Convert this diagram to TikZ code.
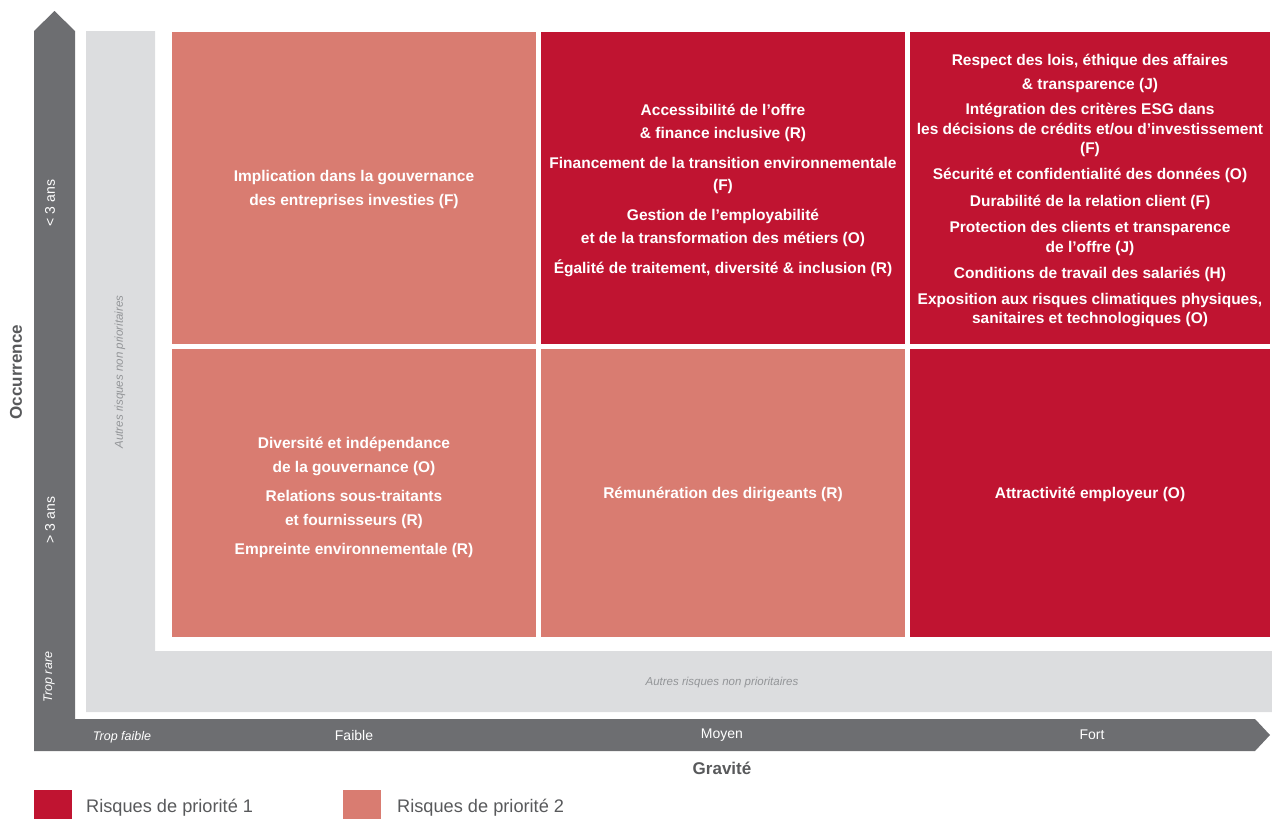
\documentclass[tikz,border=0pt]{standalone}
\usepackage{fontspec}
\setmainfont{Liberation Sans}
\definecolor{prioone}{HTML}{C01431}
\definecolor{priotwo}{HTML}{D97C71}
\definecolor{axisgray}{HTML}{6D6E71}
\definecolor{bandgray}{HTML}{DCDDDF}
\definecolor{labelgray}{HTML}{58595B}
\definecolor{othergray}{HTML}{939598}
\tikzset{
  cellbox/.style={inner sep=0pt, text=white, align=center,
    font=\bfseries\fontsize{15.5}{22.5}\selectfont},
  celltext/.style={inner sep=0pt, text=white, align=center,
    font=\bfseries\fontsize{15.5}{22.5}\selectfont},
  axislabel/.style={inner sep=0pt, text=white, font=\fontsize{14}{16}\selectfont},
  axisital/.style={inner sep=0pt, text=white, font=\itshape\fontsize{12.5}{14}\selectfont},
  othertext/.style={inner sep=0pt, text=othergray, font=\itshape\fontsize{11.5}{13}\selectfont},
  titletext/.style={inner sep=0pt, text=labelgray, font=\bfseries\fontsize{17}{19}\selectfont},
  legendtext/.style={inner sep=0pt, anchor=west, text=labelgray, font=\fontsize{18.2}{20}\selectfont},
  legendbox/.style={inner sep=0pt, minimum width=38pt, minimum height=29pt}
}
\begin{document}
\begin{tikzpicture}[x=1pt,y=-1pt]
\useasboundingbox (0,0) rectangle (1272,819);
% light gray L band
\fill[bandgray] (86,31) -- (155,31) -- (155,651) -- (1272,651) -- (1272,712) -- (86,712) -- cycle;
% axes (L-shaped double arrow)
\fill[axisgray] (34,751) -- (34,31) -- (54.5,11) -- (75,31) -- (75,719) -- (1255,719) -- (1270,735) -- (1255,751) -- cycle;

% cells
\node[cellbox, fill=priotwo, minimum width=364pt, minimum height=312pt] (c11) at (354,188) {};
\node[cellbox, fill=prioone, minimum width=364pt, minimum height=312pt] (c12) at (723,188) {};
\node[cellbox, fill=prioone, minimum width=360pt, minimum height=312pt] (c13) at (1090,188) {};
\node[cellbox, fill=priotwo, minimum width=364pt, minimum height=287.7pt] (c21) at (354,492.8) {};
\node[cellbox, fill=priotwo, minimum width=364pt, minimum height=287.7pt] (c22) at (723,492.8) {};
\node[cellbox, fill=prioone, minimum width=360pt, minimum height=287.7pt] (c23) at (1090,492.8) {};

% cell texts
\node[celltext, font=\bfseries\fontsize{15.5}{23.5}\selectfont] (t11) at ([yshift=-1.5pt]c11.center)
  {Implication dans la gouvernance\\ des entreprises investies (F)};
\node[celltext] (t12) at ([yshift=-2.5pt]c12.center)
  {Accessibilité de l’offre\\ \& finance inclusive (R)\\[7.5pt]
   Financement de la transition environnementale\\ (F)\\[7.5pt]
   Gestion de l’employabilité\\ et de la transformation des métiers (O)\\[7.5pt]
   Égalité de traitement, diversité \& inclusion (R)};
\node[celltext, font=\bfseries\fontsize{15.5}{19.5}\selectfont] (t13) at ([yshift=-2.5pt]c13.center)
  {Respect des lois, éthique des affaires\\[4.5pt]
   \& transparence (J)\\[5.5pt]
   Intégration des critères ESG dans\\
   les décisions de crédits et/ou d’investissement\\
   (F)\\[6.5pt]
   Sécurité et confidentialité des données (O)\\[7pt]
   Durabilité de la relation client (F)\\[7pt]
   Protection des clients et transparence\\
   de l’offre (J)\\[6.5pt]
   Conditions de travail des salariés (H)\\[6.5pt]
   Exposition aux risques climatiques physiques,\\
   sanitaires et technologiques (O)};
\node[celltext, font=\bfseries\fontsize{15.5}{23.5}\selectfont] (t21) at ([yshift=-5pt]c21.center)
  {Diversité et indépendance\\ de la gouvernance (O)\\[6pt]
   Relations sous-traitants\\ et fournisseurs (R)\\[6pt]
   Empreinte environnementale (R)};
\node[celltext] (t22) at ([yshift=-2pt]c22.center) {Rémunération des dirigeants (R)};
\node[celltext] (t23) at ([yshift=-2pt]c23.center) {Attractivité employeur (O)};

% other risks labels
\node[othertext, rotate=90] (othv) at (120,372) {Autres risques non prioritaires};
\node[othertext] (othh) at (722,683) {Autres risques non prioritaires};

% axis labels
\node[axislabel, rotate=90] (lt3) at (50,203) {< 3 ans};
\node[axislabel, rotate=90] (gt3) at (50,520) {> 3 ans};
\node[axisital, rotate=90] (trare) at (49,677) {Trop rare};
\node[axisital] (tfaible) at (122,737) {Trop faible};
\node[axislabel] (faible) at (354,735) {Faible};
\node[axislabel] (moyen) at (722,735) {Moyen};
\node[axislabel] (fort) at (1092,735) {Fort};

% axis titles
\node[titletext, rotate=90] (occ) at (16,372) {Occurrence};
\node[titletext] (grav) at (722,768) {Gravité};

% legend
\node[legendbox, fill=prioone, anchor=north west] (lg1) at (34,790) {};
\node[legendtext] (lt1) at (86,807.5) {Risques de priorité 1};
\node[legendbox, fill=priotwo, anchor=north west] (lg2) at (343,790) {};
\node[legendtext] (lt2) at (397,807.5) {Risques de priorité 2};
\end{tikzpicture}
\end{document}
